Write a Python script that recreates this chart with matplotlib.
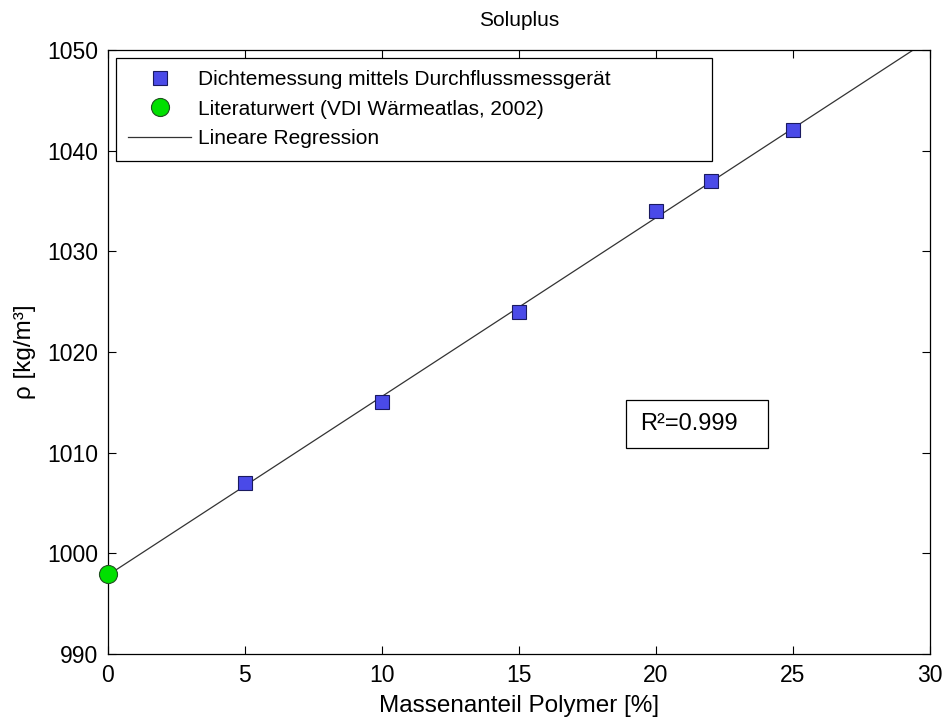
import numpy as np
import matplotlib.pyplot as plt
from matplotlib.patches import Rectangle

plt.rcParams['font.family'] = ['Liberation Sans', 'DejaVu Sans']

# measured densities
x_meas = [5, 10, 15, 20, 22, 25]
rho_meas = [1007, 1015, 1024, 1034, 1037, 1042]

# literature value (pure water)
x_lit = [0]
rho_lit = [998]

x_all = np.array(x_lit + x_meas, dtype=float)
rho_all = np.array(rho_lit + rho_meas, dtype=float)
slope, icpt = np.polyfit(x_all, rho_all, 1)
x_fit = np.array([0, 30])

fig = plt.figure(figsize=(9.47, 7.22), dpi=100)
ax = fig.add_axes([0.114, 0.094, 0.868, 0.837])

ax.plot(x_meas, rho_meas, 's', color='#4a4ae8', markeredgecolor='#1a1a60',
    markersize=10, markeredgewidth=0.8, zorder=3,
    label='Dichtemessung mittels Durchflussmessgerät')
ax.plot(x_lit, rho_lit, 'o', color='#00e000', markeredgecolor='#205020',
    markersize=13, markeredgewidth=0.8, zorder=3, clip_on=False,
    label='Literaturwert (VDI Wärmeatlas, 2002)')
ax.plot(x_fit, slope * x_fit + icpt, '-', color='#333333', linewidth=0.9,
    label='Lineare Regression', zorder=2)

ax.set_xlim(0, 30)
ax.set_ylim(990, 1050)
ax.set_xticks(np.arange(0, 31, 5))
ax.set_yticks(np.arange(990, 1051, 10))
ax.tick_params(direction='in', top=True, right=True, labelsize=16.5, length=6,
    width=0.8, pad=7)
for s in ax.spines.values():
    s.set_linewidth(0.9)

ax.set_xlabel('Massenanteil Polymer [%]', fontsize=17.5, labelpad=6)
ax.set_ylabel('ρ [kg/m³]', fontsize=17.5, labelpad=8)
ax.set_title('Soluplus', fontsize=15, pad=17)

# legend box stretched like the original
leg = ax.legend(loc='upper left', bbox_to_anchor=(0.0097, 0, 0.7251, 0.987),
    mode='expand', fontsize=15, fancybox=False, framealpha=1,
    edgecolor='black', borderaxespad=0, handlelength=3.0, labelspacing=0.5,
    borderpad=0.6, handletextpad=0.35)
leg.get_frame().set_linewidth(0.9)

# R² box
ax.add_patch(Rectangle((0.630, 0.341), 0.173, 0.0795, transform=ax.transAxes,
    facecolor='white', edgecolor='black', linewidth=0.9, zorder=4))
ax.text(0.647, 0.381, 'R²=0.999', transform=ax.transAxes, fontsize=17,
    va='center', ha='left', zorder=5)

fig.savefig('out.png', dpi=100)
